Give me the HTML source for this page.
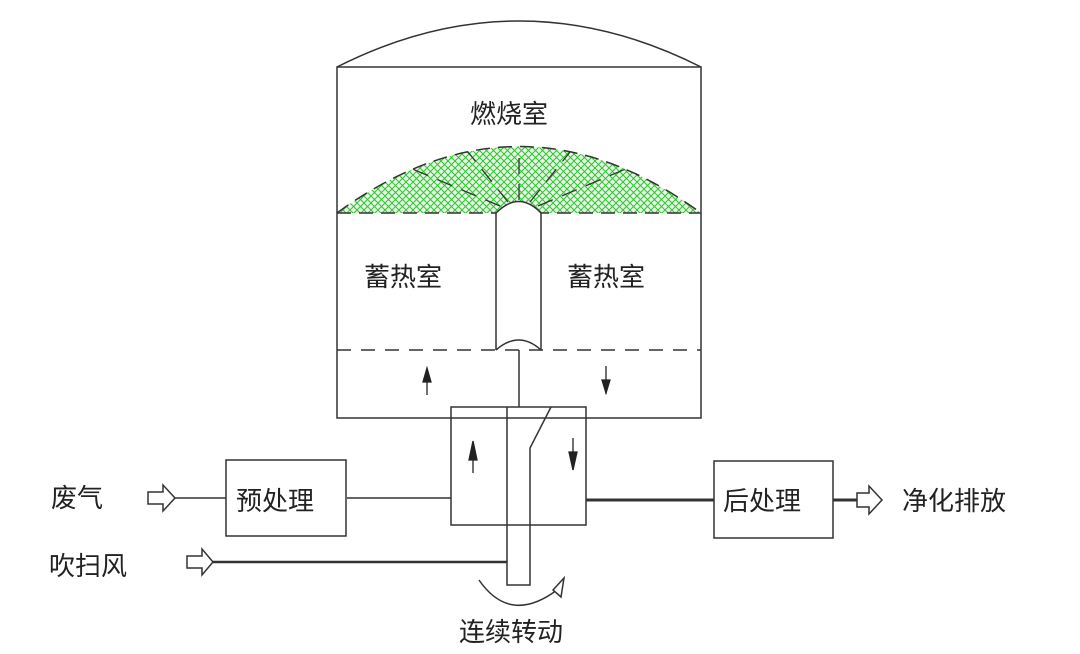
<!DOCTYPE html>
<html><head><meta charset="utf-8"><style>
html,body{margin:0;padding:0;background:#fff;}
svg{display:block;}
text{font-family:"Liberation Sans","Noto Sans CJK SC",sans-serif;font-size:26px;fill:#222;}
</style></head><body>
<svg width="1080" height="654" viewBox="0 0 1080 654" xmlns="http://www.w3.org/2000/svg">
<defs>
<pattern id="hatch" width="7" height="7" patternUnits="userSpaceOnUse">
<rect width="7" height="7" fill="#e6f7e6"/>
<path d="M0,0 L7,7 M7,0 L0,7" stroke="#2ec42e" stroke-width="1"/>
</pattern>
</defs>
<g fill="none" stroke="#333" stroke-width="1.5">
<path d="M337,67 Q519,-25 701,67"/>
<rect x="337" y="67" width="364" height="351"/>
<path d="M337,213 Q519,80 701,213 Z" fill="url(#hatch)" stroke="none"/>
<path d="M337,213 Q519,80 701,213" stroke-dasharray="14,8"/>
<line x1="337" y1="213" x2="701" y2="213" stroke-dasharray="14,8"/>
<g stroke="#333" stroke-width="1.3" stroke-dasharray="16,10">
<line x1="519" y1="200" x2="519" y2="148"/>
<line x1="508" y1="202" x2="468" y2="152"/>
<line x1="530" y1="202" x2="570" y2="152"/>
<line x1="500" y1="206" x2="410" y2="168"/>
<line x1="538" y1="206" x2="628" y2="168"/>
</g>
<path d="M496,350 L496,213 Q519,190 541,213 L541,350" fill="#fff"/>
<path d="M496,350 Q519,330 541,350"/>
<line x1="337" y1="350" x2="701" y2="350" stroke-dasharray="14,10"/>
<line x1="519" y1="350" x2="519" y2="407"/>
<rect x="451" y="407" width="135" height="118"/>
<path d="M507,407 L507,585 L530,585 L530,448 L551,407"/>
<line x1="451" y1="498" x2="347" y2="498"/>
<rect x="226" y="460" width="120" height="76"/>
<line x1="226" y1="498" x2="175" y2="498"/>
<line x1="213" y1="562" x2="507" y2="562" stroke-width="2.5"/>
<line x1="586" y1="500" x2="714" y2="500" stroke-width="3"/>
<rect x="714" y="461" width="119" height="77"/>
<line x1="833" y1="500" x2="857" y2="500" stroke-width="3"/>
<path d="M148,492 L163,492 L163,485 L175,498 L163,511 L163,504 L148,504 Z"/>
<path d="M187,556 L202,556 L202,549 L213,562 L202,575 L202,568 L187,568 Z"/>
<path d="M857,493 L869,493 L869,486 L882,500 L869,514 L869,507 L857,507 Z"/>
<path d="M479,580 Q510,625 557,590"/>
<path d="M553,590 L564,578 L561,597 Z" fill="#fff"/>
</g>
<g fill="#222" stroke="#222" stroke-width="1.3">
<line x1="427" y1="370" x2="427" y2="395"/><path d="M427,368 L431,382 L423,382 Z"/>
<line x1="606" y1="366" x2="606" y2="394"/><path d="M606,393 L610,380 L602,380 Z"/>
<line x1="473" y1="443" x2="473" y2="473"/><path d="M473,441 L477,460 L469,460 Z"/>
<line x1="573" y1="438" x2="573" y2="470"/><path d="M573,470 L577,452 L569,452 Z"/>
</g>
<text x="470" y="123">燃烧室</text>
<text x="364" y="286">蓄热室</text>
<text x="567" y="286">蓄热室</text>
<text x="236" y="510">预处理</text>
<text x="723" y="510">后处理</text>
<text x="51" y="507">废气</text>
<text x="49" y="575">吹扫风</text>
<text x="902" y="510">净化排放</text>
<text x="459" y="641">连续转动</text>
</svg>
</body></html>
